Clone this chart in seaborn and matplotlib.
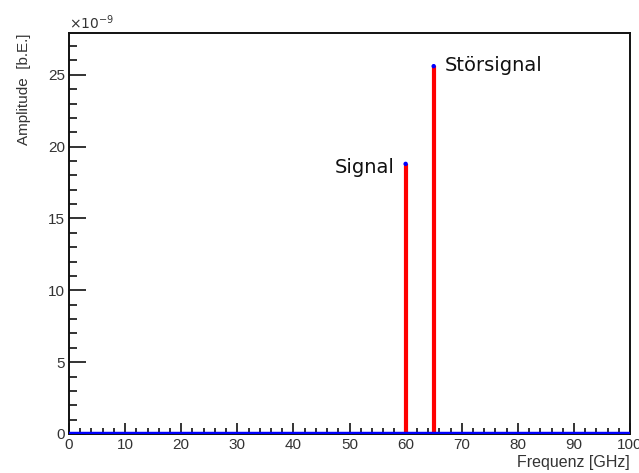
import matplotlib
matplotlib.use('Agg')
import matplotlib.pyplot as plt
import seaborn as sns
import pandas as pd
from matplotlib.ticker import MultipleLocator

# Spektrum: Peaks in Einheiten von 1e-9
peak_freq = [60, 65]
peak_amp = [18.8, 25.6]
peak_labels = ['Signal', 'Störsignal']
baseline_freq = [0, 100]
baseline_amp = [0, 0]

sns.set_theme(style='white')
plt.rcParams['font.family'] = ['Liberation Sans', 'DejaVu Sans']

fig = plt.figure(figsize=(6.39, 4.73), dpi=100)
ax = fig.add_axes([0.108, 0.0825, 0.878, 0.8475])

peaks = pd.DataFrame({'freq': peak_freq, 'amp': peak_amp})
base = pd.DataFrame({'freq': baseline_freq, 'amp': baseline_amp})

ax.vlines(peaks['freq'], 0, peaks['amp'], color='#ff0000', lw=3, zorder=2)
sns.lineplot(data=base, x='freq', y='amp', color='#0000ff', lw=3.2, ax=ax, zorder=3)
sns.scatterplot(data=peaks, x='freq', y='amp', color='#0000ff', s=10,
                edgecolor='none', ax=ax, zorder=4)

ax.text(peak_freq[0] - 2.0, peak_amp[0] - 0.25, peak_labels[0], ha='right', va='center',
        fontsize=14, family='DejaVu Sans', color='#111111')
ax.text(peak_freq[1] + 2.0, peak_amp[1] + 0.05, peak_labels[1], ha='left', va='center',
        fontsize=14, family='DejaVu Sans', color='#111111')

ax.set_xlim(0, 100)
ax.set_ylim(0, 27.9)
ax.xaxis.set_major_locator(MultipleLocator(10))
ax.xaxis.set_minor_locator(MultipleLocator(2))
ax.yaxis.set_major_locator(MultipleLocator(5))
ax.yaxis.set_minor_locator(MultipleLocator(1))
ax.tick_params(axis='both', which='both', direction='in', colors='#111111',
               labelcolor='#333333', labelsize=11, width=1.2)
ax.tick_params(axis='y', which='major', length=12, pad=3)
ax.tick_params(axis='y', which='minor', length=6)
ax.tick_params(axis='x', which='major', length=8, pad=3)
ax.tick_params(axis='x', which='minor', length=4)
ax.tick_params(left=True, bottom=True, which='both')

for sp in ax.spines.values():
    sp.set_color('#111111')
    sp.set_linewidth(1.4)

ax.set_xlabel('Frequenz [GHz]', loc='right', fontsize=11.5, color='#333333', labelpad=2)
ax.set_ylabel('Amplitude  [b.E.]', loc='top', fontsize=11, color='#333333', labelpad=12)
ax.text(0, 1.003, r'$\times10^{-9}$', transform=ax.transAxes, ha='left', va='bottom',
        fontsize=10, color='#333333')

fig.savefig('out.png', dpi=100)
